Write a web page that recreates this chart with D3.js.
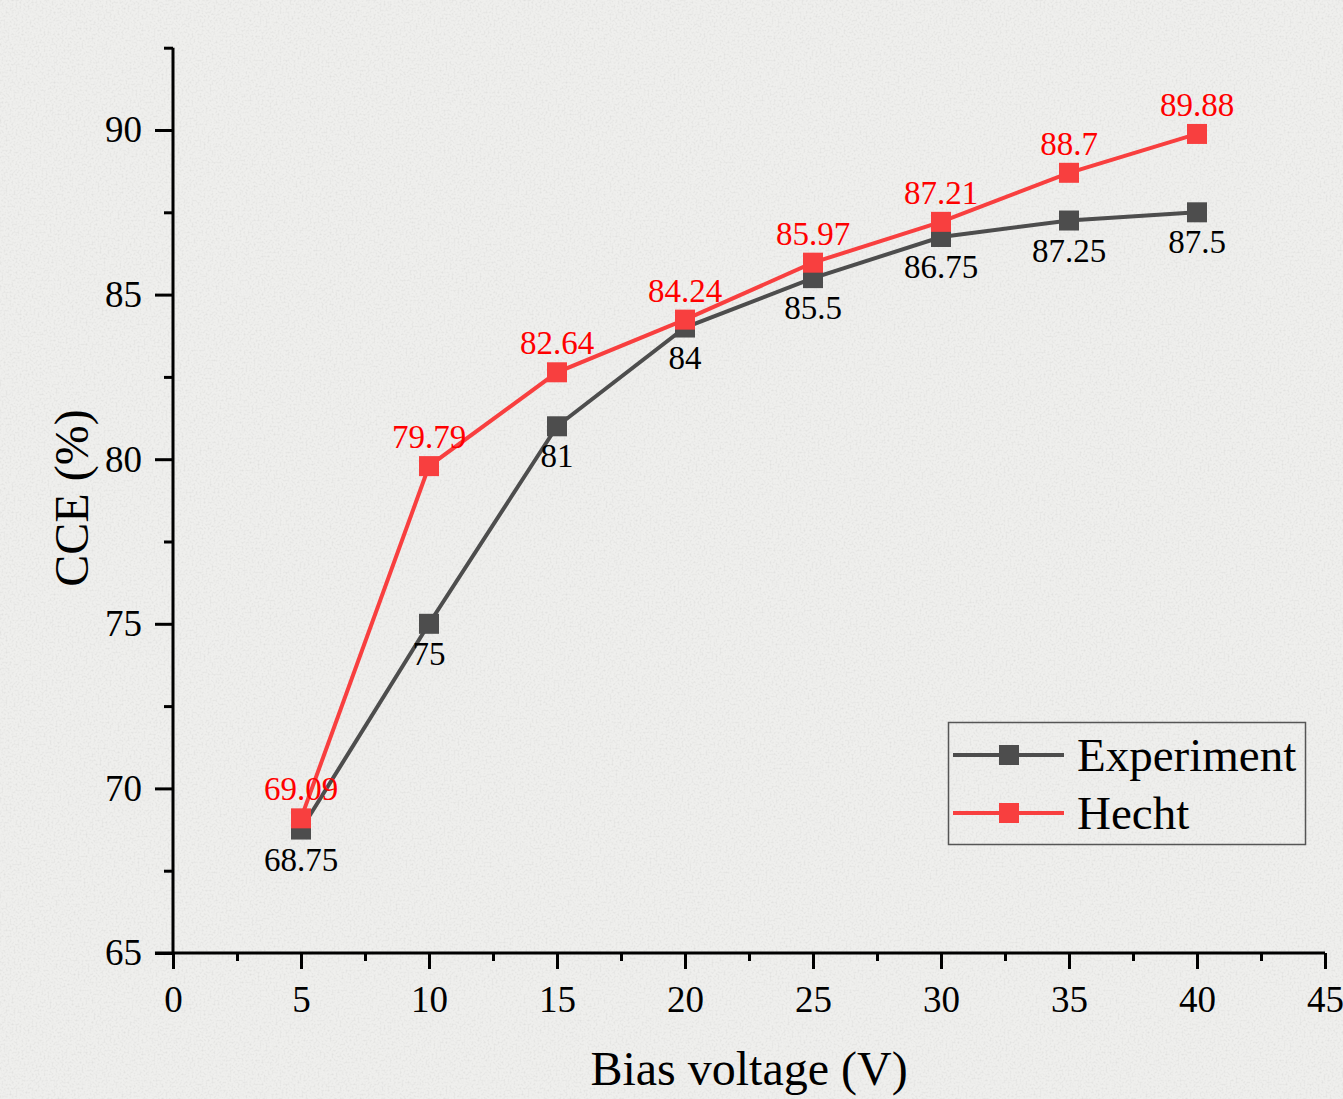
<!DOCTYPE html>
<html lang="en">
<head>
    <meta charset="UTF-8">
    <title>CCE vs Bias voltage</title>
    <script src="https://d3js.org/d3.v7.min.js"></script>
    <style>
        body { margin: 0; background: #eaeae8; }
        svg { display: block; }
        .axis path, .axis line { stroke: #000; stroke-width: 3px; }
        .axis text { font-family: "Liberation Serif", "Times New Roman", serif; font-size: 37px; fill: #000; }
        .title { font-family: "Liberation Serif", "Times New Roman", serif; font-size: 48px; fill: #000; }
        .lbl { font-family: "Liberation Serif", "Times New Roman", serif; font-size: 33px; }
        .legend text { font-family: "Liberation Serif", "Times New Roman", serif; font-size: 47px; fill: #000; }
    </style>
</head>
<body>
    <svg width="1343" height="1099"></svg>
    <script>
        // data
        var voltage = [5, 10, 15, 20, 25, 30, 35, 40];
        var experiment = [68.75, 75, 81, 84, 85.5, 86.75, 87.25, 87.5];
        var hecht = [69.09, 79.79, 82.64, 84.24, 85.97, 87.21, 88.7, 89.88];
        var xTicks = [0, 5, 10, 15, 20, 25, 30, 35, 40, 45];
        var yTicks = [65, 70, 75, 80, 85, 90];

        var svg = d3.select("svg");

        // paper-like background
        var defs = svg.append("defs");
        var f = defs.append("filter").attr("id", "noise").attr("x", 0).attr("y", 0).attr("width", "100%").attr("height", "100%");
        f.append("feTurbulence").attr("type", "fractalNoise").attr("baseFrequency", 0.5).attr("numOctaves", 3).attr("seed", 4);
        f.append("feColorMatrix").attr("type", "matrix")
            .attr("values", "0 0 0 0 0.6  0 0 0 0 0.6  0 0 0 0 0.59  0 0 0 -2 1.1");
        svg.append("rect").attr("width", 1343).attr("height", 1099).attr("fill", "#efefed");
        svg.append("rect").attr("width", 1343).attr("height", 1099).attr("filter", "url(#noise)").attr("opacity", 0.5);

        var x = d3.scaleLinear().domain([0, 45]).range([173, 1325]);
        var y = d3.scaleLinear().domain([65, 92.5]).range([953, 953 - 27.5 * 32.92]);

        // x axis
        svg.append("g").attr("class", "axis")
            .attr("transform", "translate(0,953)")
            .call(d3.axisBottom(x).tickValues(d3.range(2.5, 45, 5)).tickSize(8).tickSizeOuter(0).tickFormat(""))
            .select(".domain").remove();
        svg.append("g").attr("class", "axis")
            .attr("transform", "translate(0,953)")
            .call(d3.axisBottom(x).tickValues(xTicks).tickSize(16).tickSizeOuter(0).tickPadding(17))
            .call(function (g) { g.select(".domain").attr("d", "M155,0H" + x(45)); })
            .selectAll("text").attr("dy", "0.71em");

        // y axis
        svg.append("g").attr("class", "axis")
            .attr("transform", "translate(173,0)")
            .call(d3.axisLeft(y).tickValues(d3.range(67.5, 93, 5)).tickSize(9).tickSizeOuter(0).tickFormat(""))
            .select(".domain").remove();
        svg.append("g").attr("class", "axis")
            .attr("transform", "translate(173,0)")
            .call(d3.axisLeft(y).tickValues(yTicks).tickSize(18).tickSizeOuter(0).tickPadding(13))
            .call(function (g) { g.select(".domain").attr("d", "M0," + y(92.5) + "V953"); });

        // axis titles
        svg.append("text").attr("class", "title")
            .attr("x", 749).attr("y", 1085).attr("text-anchor", "middle")
            .text("Bias voltage (V)");
        svg.append("text").attr("class", "title")
            .attr("transform", "translate(88,498) rotate(-90)")
            .attr("text-anchor", "middle")
            .text("CCE (%)");

        var series = [
            { name: "Experiment", values: experiment, color: "#4d4d4d", dy: 41, label: "#000" },
            { name: "Hecht", values: hecht, color: "#f83f3f", dy: -18, label: "#ff0000" }
        ];

        var line = d3.line()
            .x(function (d, i) { return x(voltage[i]); })
            .y(function (d) { return y(d); });

        series.forEach(function (s) {
            var g = svg.append("g");
            g.append("path")
                .attr("d", line(s.values))
                .attr("fill", "none")
                .attr("stroke", s.color)
                .attr("stroke-width", 4);
            g.selectAll("rect")
                .data(s.values)
                .enter().append("rect")
                .attr("x", function (d, i) { return x(voltage[i]) - 10; })
                .attr("y", function (d) { return y(d) - 10; })
                .attr("width", 20)
                .attr("height", 20)
                .attr("fill", s.color);
        });

        // value labels
        series.forEach(function (s) {
            svg.append("g").selectAll("text")
                .data(s.values)
                .enter().append("text")
                .attr("class", "lbl")
                .attr("x", function (d, i) { return x(voltage[i]); })
                .attr("y", function (d) { return y(d) + s.dy; })
                .attr("text-anchor", "middle")
                .attr("fill", s.label)
                .text(function (d) { return d; });
        });

        // legend
        var lg = svg.append("g").attr("class", "legend");
        lg.append("rect")
            .attr("x", 948.5).attr("y", 722.5).attr("width", 357).attr("height", 122)
            .attr("fill", "none").attr("stroke", "#555").attr("stroke-width", 1.5);
        series.forEach(function (s, i) {
            var cy = 755 + i * 58;
            lg.append("line").attr("x1", 953).attr("x2", 1064).attr("y1", cy).attr("y2", cy)
                .attr("stroke", s.color).attr("stroke-width", 4);
            lg.append("rect").attr("x", 999).attr("y", cy - 10).attr("width", 20).attr("height", 20)
                .attr("fill", s.color);
            lg.append("text").attr("x", 1077).attr("y", cy + 16).text(s.name);
        });
    </script>
</body>
</html>
